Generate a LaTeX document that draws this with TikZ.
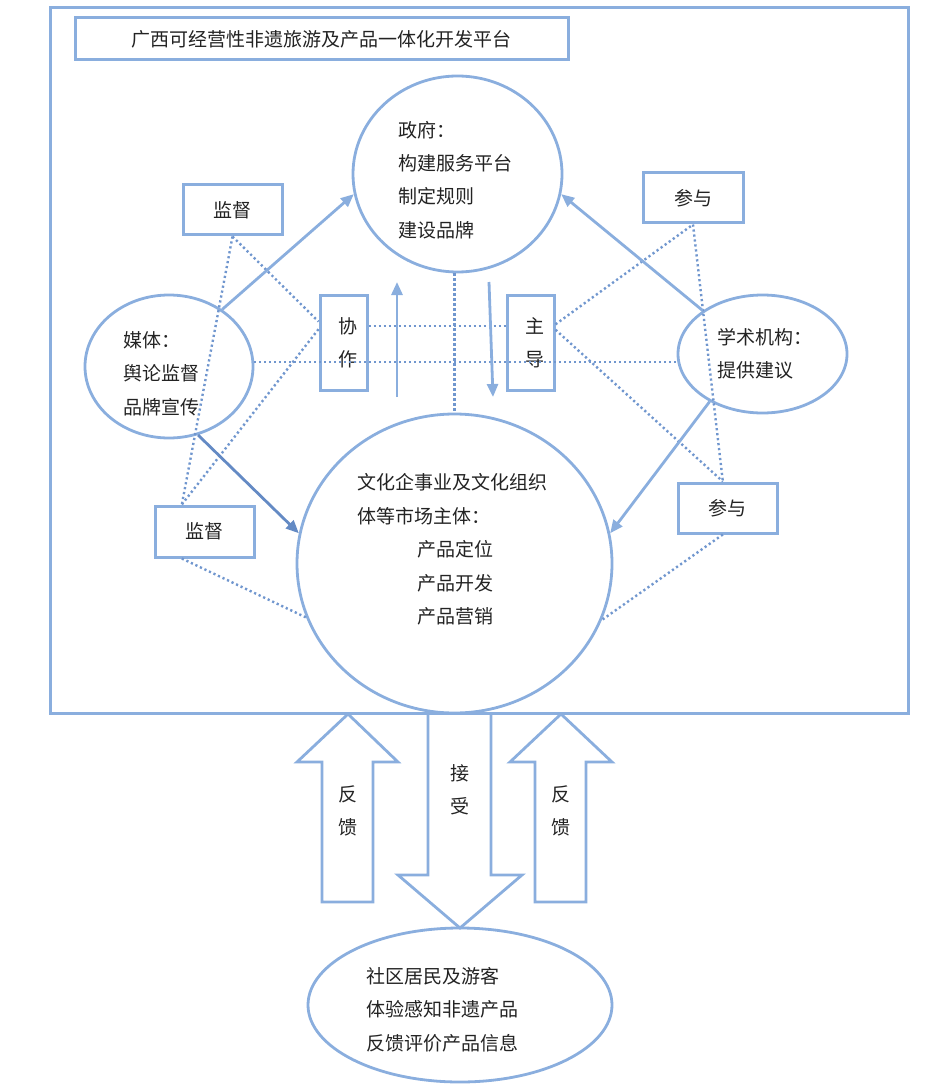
\documentclass[tikz,border=0pt]{standalone}
\usepackage{fontspec}
\setmainfont{Noto Sans CJK SC}
\usetikzlibrary{shapes.geometric,arrows.meta,calc}
\definecolor{lb}{RGB}{138,174,222}
\definecolor{mb}{RGB}{112,150,206}
\definecolor{db}{RGB}{100,138,196}
\definecolor{tx}{RGB}{35,35,35}
\begin{document}
\begin{tikzpicture}[x=1pt,y=-1pt,
  txt/.style={text=tx,font=\fontsize{19}{33.4}\selectfont,inner sep=0pt,align=left},
  bx/.style={draw=lb,line width=3pt,rectangle,inner sep=0pt,text=tx,font=\fontsize{19}{33.4}\selectfont,align=center},
  ell/.style={draw=lb,line width=2.8pt,ellipse,inner sep=0pt},
  arr/.style={draw=lb,line width=2.8pt,-{Triangle[length=13pt,width=11pt]}},
  darr/.style={arr,draw=db},
  dot/.style={draw=mb,line width=2.4pt,dash pattern=on 2.2pt off 2.8pt},
  blk/.style={draw=lb,line width=2.8pt,line join=miter}]
\useasboundingbox (0,0) rectangle (942,1091);
% frame and title
\node[bx,minimum width=858,minimum height=705] (frame) at (479,360.5) {};
\node[bx,minimum width=493,minimum height=42] (title) at (321.5,39) {广西可经营性非遗旅游及产品一体化开发平台};
% ellipses
\node[ell,minimum width=209,minimum height=196] (gov) at (457.5,174) {};
\node[ell,minimum width=168,minimum height=143] (media) at (169,366.5) {};
\node[ell,minimum width=169,minimum height=118] (acad) at (762.5,354) {};
\node[ell,minimum width=315,minimum height=299] (ent) at (454.5,563.5) {};
\node[ell,minimum width=304,minimum height=154] (pub) at (460,1005) {};
% ellipse texts
\node[txt,anchor=west] (govt) at (398,180) {政府：\\构建服务平台\\制定规则\\建设品牌};
\node[txt,anchor=west] (mediat) at (123,373.5) {媒体：\\舆论监督\\品牌宣传};
\node[txt,anchor=west] (acadt) at (717,353.5) {学术机构：\\提供建议};
\node[txt,anchor=west] (entt) at (357,549.5) {文化企事业及文化组织\\体等市场主体：\\\hspace*{60pt}产品定位\\\hspace*{60pt}产品开发\\\hspace*{60pt}产品营销};
\node[txt,anchor=west] (pubt) at (366,1009.5) {社区居民及游客\\体验感知非遗产品\\反馈评价产品信息};
% boxes
\node[bx,minimum width=99,minimum height=50] (jd1) at (232.5,210) {监督};
\node[bx,minimum width=47,minimum height=95,text width=47,align=center] (xz) at (343.5,342.5) {\hspace*{8pt}协\\\hspace*{8pt}作};
\node[bx,minimum width=47,minimum height=95,text width=47,align=center] (zd) at (530.5,342.5) {\hspace*{8pt}主\\\hspace*{8pt}导};
\node[bx,minimum width=100,minimum height=50] (cy1) at (693,198) {参与};
\node[bx,minimum width=99,minimum height=51] (jd2) at (204.5,531.5) {监督};
\node[bx,minimum width=99,minimum height=50] (cy2) at (727.5,508) {参与};
% dotted relations
\draw[dot] (jd1.south) -- (xz.140);
\draw[dot] (jd1.south) -- (jd2.130);
\draw[dot] (xz.152) -- (jd2.130);
\draw[dot] (media.3) -- (media.3 -| acad.west);
\draw[dot] (xz.33) -- (zd.147);
\draw[dot] (ent.north |- gov.south) -- (ent.north);
\draw[dot] (zd.36) -- (cy1.south);
\draw[dot] (zd.27) -- (cy2.100);
\draw[dot] (cy1.south) -- (cy2.100);
\draw[dot] (jd2.230) -- (ent.200);
\draw[dot] (cy2.260) -- (ent.339);
% solid arrows
\draw[arr] (media.47) -- (gov.191);
\draw[arr] (acad.144) -- (gov.349);
\draw[darr] (media.293) -- (ent.169);
\draw[arr] (acad.222) -- (ent.11);
\coordinate (u1) at (397,397);
\coordinate (u2) at (397,282);
\coordinate (d1) at (489,282);
\coordinate (d2) at (493,397);
\draw[arr] (u1) -- (u2);
\draw[arr] (d1) -- (d2);
% block arrows
\draw[blk] (322,902) -- (322,762) -- (297,762) -- (348,714) -- (398,762) -- (373,762) -- (373,902) -- cycle;
\draw[blk] (428,713) -- (428,875) -- (398,875) -- (460,928) -- (522,875) -- (491,875) -- (491,713);
\draw[blk] (535,902) -- (535,762) -- (510,762) -- (561,714) -- (612,762) -- (586,762) -- (586,902) -- cycle;
\node[txt,align=center] (fk1) at (348,811) {反\\馈};
\node[txt,align=center] (js) at (460,790) {接\\受};
\node[txt,align=center] (fk2) at (561,811) {反\\馈};
\end{tikzpicture}
\end{document}
